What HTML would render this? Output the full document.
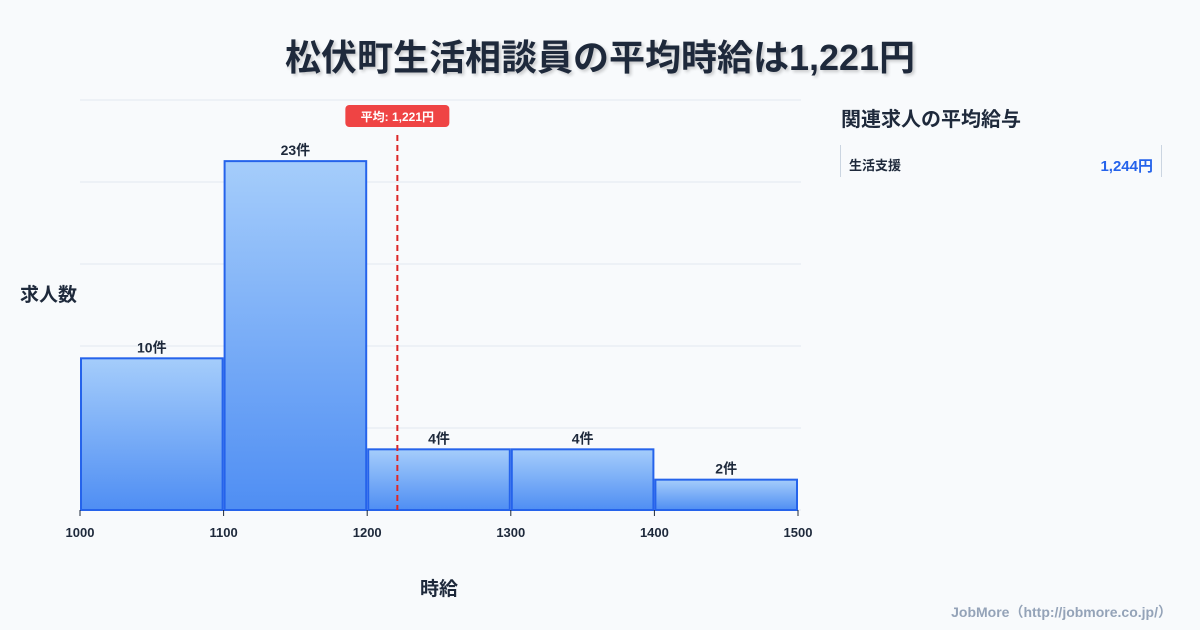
<!DOCTYPE html>
<html><head><meta charset="utf-8"><style>
body{margin:0;width:1200px;height:630px;background:#f8fafc;font-family:"Liberation Sans","Noto Sans CJK JP",sans-serif;overflow:hidden;position:relative}
.t{position:absolute;color:#1e293b;font-weight:bold}
</style></head><body>
<div class="t" style="left:0;width:1200px;top:29px;text-align:center;font-size:36px;text-shadow:2px 2px 3px rgba(0,0,0,0.2)">松伏町生活相談員の平均時給は1,221円</div>
<div class="t" style="left:20px;top:280px;font-size:19px">求人数</div>
<div class="t" style="left:420px;top:574px;font-size:19px">時給</div>
<div class="t" style="left:841px;top:103px;font-size:20px">関連求人の平均給与</div>
<div style="position:absolute;left:840px;top:145px;width:320px;height:32px;border-left:1px solid #cbd5e1;border-right:1px solid #cbd5e1">
<span class="t" style="left:8px;top:10px;font-size:13px">生活支援</span>
<span class="t" style="right:8px;top:10px;font-size:15px;color:#2563eb">1,244円</span></div>
<div style="position:absolute;right:28px;top:602px;font-size:14px;color:#94a3b8;font-weight:bold">JobMore（http://jobmore.co.jp/）</div>
<svg id="c" width="1200" height="630" style="position:absolute;left:0;top:0">
<defs><linearGradient id="g" x1="0" y1="0" x2="0" y2="1"><stop offset="0" stop-color="#a5cdfb"/><stop offset="1" stop-color="#4f8ef3"/></linearGradient></defs>
</svg>
<script>
const binStarts=[1000,1100,1200,1300,1400];
const counts=[10,23,4,4,2];
const xTicks=[1000,1100,1200,1300,1400,1500];
const avgValue=1221;
const avgLabel="平均: 1,221円";
const svg=document.getElementById('c');const NS='http://www.w3.org/2000/svg';
const X=v=>80+(v-1000)*(718/500);const Y=v=>510-v*(410/27.03);
function el(t,a,p){const e=document.createElementNS(NS,t);for(const k in a)e.setAttribute(k,a[k]);(p||svg).appendChild(e);return e;}
for(let i=0;i<=5;i++){const g=el('line',{x1:80,x2:801,y1:510-82*i,y2:510-82*i,stroke:'#e2e8f0'});

}
binStarts.forEach((b,i)=>{const x0=X(b)+1,x1=X(b+100)-1;
const r=el('rect',{x:x0,y:Y(counts[i]),width:x1-x0,height:510-Y(counts[i]),fill:'url(#g)',stroke:'#2563eb','stroke-width':2});


const t=el('text',{x:(x0+x1)/2,y:Y(counts[i])-6,'text-anchor':'middle','font-size':14,'font-weight':'bold',fill:'#1e293b'});t.textContent=counts[i]+'件';

});
xTicks.forEach(v=>{const t=el('text',{x:X(v),y:537,'text-anchor':'middle','font-size':13,'font-weight':'bold',fill:'#1e293b'});t.textContent=v;


const k=el('line',{x1:X(v),x2:X(v),y1:510,y2:516,stroke:'#1e293b'});

});
const ax=X(avgValue);
const l=el('line',{x1:ax,x2:ax,y1:135,y2:510,stroke:'#dc2626','stroke-width':2,'stroke-dasharray':'6,4'});


const bx=el('rect',{x:ax-52,y:105,width:104,height:22,rx:4,fill:'#ef4444'});


const at=el('text',{x:ax,y:121,'text-anchor':'middle','font-size':12,'font-weight':'bold',fill:'#fff'});at.textContent=avgLabel;


</script>
</body></html>
